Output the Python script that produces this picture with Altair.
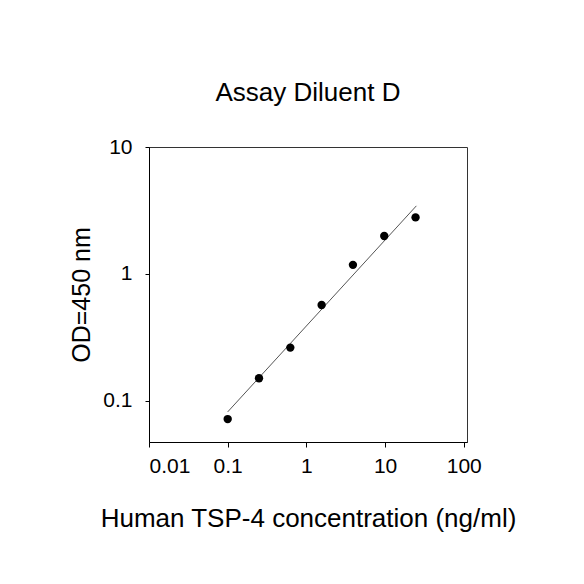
import altair as alt
import pandas as pd

# Data
conc = [0.1, 0.25, 0.625, 1.5625, 3.906, 9.766, 24.41]
od = [0.072, 0.151, 0.263, 0.570, 1.18, 1.99, 2.79]
fit_x = [0.1, 25.0]
fit_y = [0.082, 3.44]
x_ticks = [0.01, 0.1, 1, 10, 100]
y_ticks = [0.1, 1, 10]

pts = pd.DataFrame({"x": conc, "y": od})
fit = pd.DataFrame({"x": fit_x, "y": fit_y})

FONT = "Liberation Sans"

xscale = alt.Scale(type="log", domain=[0.01, 110], nice=False)
yscale = alt.Scale(type="log", domain=[0.0475, 10], nice=False)

xaxis = alt.Axis(values=x_ticks, format="~g", title="Human TSP-4 concentration (ng/ml)",
                 labelPadding=8, titlePadding=29, tickSize=5, titleFontSize=26)
yaxis = alt.Axis(values=y_ticks, format="~g", title="OD=450 nm",
                 labelPadding=13, titlePadding=8, tickSize=4)

line = alt.Chart(fit).mark_line(color="#555555", strokeWidth=1).encode(
    x=alt.X("x:Q", scale=xscale, axis=xaxis),
    y=alt.Y("y:Q", scale=yscale, axis=yaxis),
)

dots = alt.Chart(pts).mark_circle(color="black", opacity=1, size=70).encode(
    x=alt.X("x:Q", scale=xscale),
    y=alt.Y("y:Q", scale=yscale),
)

chart = (
    alt.layer(line, dots)
    .properties(
        width=318,
        height=295,
        title=alt.TitleParams("Assay Diluent D", font=FONT, fontSize=26, fontWeight="normal",
                              color="black", offset=30, anchor="middle"),
        autosize=alt.AutoSizeParams(type="none"),
        padding={"left": 141, "top": 139, "right": 109, "bottom": 134},
    )
    .configure(background="white")
    .configure_view(stroke="#333333", strokeWidth=1)
    .configure_axis(
        grid=False,
        domainColor="black",
        tickColor="black",
        labelFont=FONT,
        labelFontSize=21,
        labelColor="black",
        titleFont=FONT,
        titleFontSize=25,
        titleFontWeight="normal",
        titleColor="black",
    )
)

chart.save("out.html", embed_options={"renderer": "svg", "actions": False})
